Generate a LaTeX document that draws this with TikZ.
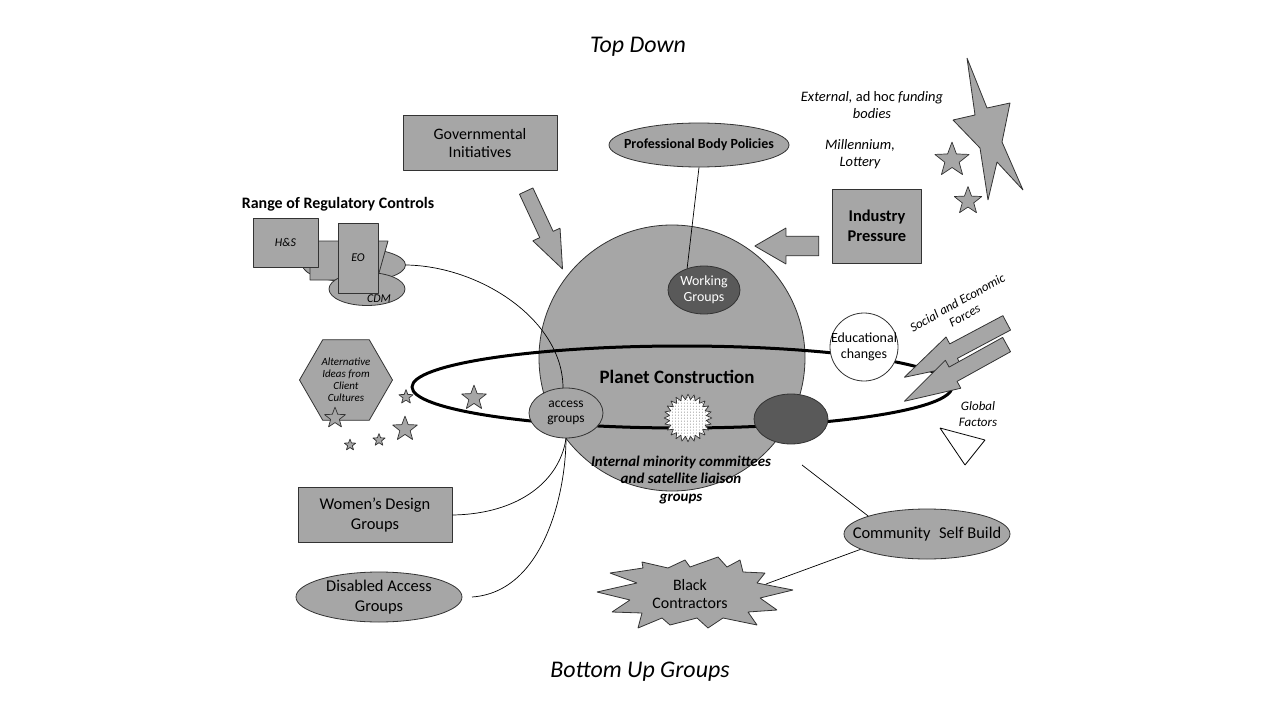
\documentclass[tikz,border=0pt]{standalone}
\usepackage{fontspec}
\setmainfont{Carlito}
\usepackage{tikz}
\usetikzlibrary{positioning,shapes.geometric,shapes.arrows,patterns}
\definecolor{shapegrey}{HTML}{A6A6A6}
\definecolor{darkgrey}{HTML}{595959}
\definecolor{edgegrey}{HTML}{333333}
\newcommand{\fsz}[1]{\fontsize{#1}{#1}\selectfont}

\begin{document}
\begin{tikzpicture}[x=1bp,y=-1bp,line join=bevel,
  box/.style={draw=edgegrey,fill=shapegrey,line width=0.8bp,align=center,inner sep=0pt},
  oval/.style={box,ellipse,inner xsep=-12bp},
  tinystar/.style={draw=edgegrey,fill=shapegrey,line width=0.7bp,star,star points=5,star point ratio=2.4,inner sep=0pt},
  blockarrow/.style={draw=edgegrey,fill=shapegrey,line width=0.8bp,single arrow,inner xsep=0pt,anchor=tip},
  label/.style={align=center,inner sep=0pt}]
\useasboundingbox (0,0) rectangle (1280,720);
%%
\node (topdown) at (638,47) [label,font=\fsz{24}\itshape] {Top Down};
\node (bottomup) at (640,672) [label,font=\fsz{24}\itshape] {Bottom Up Groups};
%% top
\node (governmental) at (480,143) [box,minimum width=154bp,minimum height=55bp,font=\fsz{16}] {Governmental\\[3bp]Initiatives};
\node (govarrow) at (563,270) [blockarrow,rotate=-65,minimum height=86bp,inner ysep=6.5bp,minimum width=30bp,single arrow tip angle=43] {};
\node (profbody) at (699,145) [oval,minimum width=180bp,minimum height=44bp,font=\fsz{14}\bfseries] {Professional Body Policies};
\node (funding) at (872,105) [label,font=\fsz{14.5}\itshape] {External, {\upshape ad hoc} funding\\[3bp]bodies};
\node (lottery) at (860,154) [label,font=\fsz{14.5}\itshape] {Millennium,\\[3bp]Lottery};
\draw [draw=edgegrey,fill=shapegrey,line width=0.8bp] (967,58) -- (987,108) -- (1010,103) -- (1002,142) -- (1023,190) -- (997,162) -- (988,200) -- (980,148) -- (953,120) -- (975,115) -- cycle;
\node (star1) at (952,160) [tinystar,minimum size=36bp] {};
\node (star2) at (968,201) [tinystar,minimum size=29bp] {};
\node (industry) at (877,226) [box,minimum width=89bp,minimum height=74bp,font=\fsz{16.5}\bfseries] {Industry\\[3bp]Pressure};
\node (indarrow) at (754,246) [blockarrow,rotate=180,minimum height=64bp,inner ysep=8bp,minimum width=36bp,single arrow tip angle=60] {};
%% regulatory controls
\node (regtitle) at (338,204) [label,font=\fsz{16}\bfseries] {Range of Regulatory Controls};
\node (regback) at (354,265) [oval,minimum width=103bp,minimum height=34bp] {};
\draw [draw=edgegrey,fill=shapegrey,line width=0.8bp] (310,241) -- (388,241) -- (377,280) -- (310,280) -- cycle;
\node (cdm) at (367,289) [oval,minimum width=76bp,minimum height=33bp] {};
\node (cdmlabel) at (379,299) [label,font=\fsz{12}\itshape] {CDM};
\node (hs) at (285.5,242.5) [box,minimum width=65bp,minimum height=49bp,font=\fsz{12}\itshape] {H\&S};
\node (eo) at (358,258) [box,minimum width=40bp,minimum height=70bp,font=\fsz{12}\itshape] {EO};
%% left
\node (altideas) at (346,380) [box,regular polygon,regular polygon sides=6,minimum size=93bp,font=\fsz{11}\itshape] {Alternative\\[1bp]Ideas from\\[1bp]Client\\[1bp]Cultures};
\node (s1) at (335,418) [tinystar,minimum size=22bp] {};
\node (s2) at (406,397) [tinystar,minimum size=15bp] {};
\node (s3) at (474,398) [tinystar,minimum size=26bp] {};
\node (s4) at (405,429) [tinystar,minimum size=26bp] {};
\node (s5) at (379,440) [tinystar,minimum size=13bp] {};
\node (s6) at (350,445) [tinystar,minimum size=12bp] {};
\node (womens) at (375,515) [box,minimum width=154bp,minimum height=55bp,font=\fsz{16.5}] {Women’s Design\\[3bp]Groups};
\node (disabled) at (379,597) [oval,inner xsep=-25bp,minimum width=166bp,minimum height=50bp,font=\fsz{16.5}] {Disabled Access\\[3bp]Groups};
%% planet
\node (planet) at (672,358) [circle,draw=edgegrey,fill=shapegrey,line width=0.8bp,minimum size=266bp] {};
\node (planetlabel) at (677,377) [label,font=\fsz{19}\bfseries] {Planet Construction};
\node (internal) at (681,480) [label,font=\fsz{15}\bfseries\itshape] {Internal minority committees\\[3bp]and satellite liaison\\[3bp]groups};
\node (working) at (704,290) [oval,fill=darkgrey,minimum width=72bp,minimum height=48bp,text=white,font=\fsz{14}] {Working\\[2bp]Groups};
\draw [line width=3bp] (682,387) ellipse [x radius=270bp, y radius=41bp];
%%
\draw [line width=0.7bp] (profbody.south) -- (working.128);
\draw [line width=0.7bp] (regback.east) .. controls (480,266) and (563,320) .. (563,388);
\node (access) at (566,413) [oval,minimum width=74bp,minimum height=50bp,font=\fsz{13.5}] {access\\[2bp]groups};
\draw [line width=0.7bp] (womens.east) .. controls (520,514) and (560,480) .. (access.south);
\draw [line width=0.7bp] (472,597) .. controls (545,592) and (566,490) .. (access.south);
\node (sparkle) at (688,418) [draw=edgegrey,line width=0.7bp,star,star points=24,star point ratio=1.3,minimum size=48bp,inner sep=0pt,fill=white,postaction={pattern=dots,pattern color=gray}] {};
\node (darkmoon) at (791,419) [oval,fill=darkgrey,minimum width=74bp,minimum height=50bp] {};
\node (educational) at (864,347) [circle,draw=edgegrey,fill=white,line width=0.8bp,minimum size=68bp,inner sep=-6bp,align=center,font=\fsz{14}] {Educational\\[2bp]changes};
%% right
\node (social) at (961,309) [label,rotate=29,font=\fsz{13}\itshape] {Social and Economic\\[2bp]Forces};
\node (socarrow1) at (903,378) [blockarrow,rotate=208,minimum height=116bp,inner ysep=7bp,minimum width=32bp,single arrow tip angle=32] {};
\node (socarrow2) at (903,402) [blockarrow,rotate=209,minimum height=117bp,inner ysep=7bp,minimum width=32bp,single arrow tip angle=32] {};
\node (global) at (978,414) [label,font=\fsz{13}\itshape] {Global\\[3bp]Factors};
\draw [fill=white,line width=0.8bp] (940,428) -- (985,440) -- (965,465) -- cycle;
\node (community) at (927,534) [oval,inner xsep=-30bp,minimum width=166bp,minimum height=50bp,font=\fsz{16.5}] {Community\hspace{5bp} Self Build};
\coordinate (csbend) at (802,465);
\draw [line width=0.7bp] (csbend) -- (community.163);
%% black contractors burst
\draw [draw=edgegrey,fill=shapegrey,line width=0.8bp] (597,592) -- (637,583) -- (610,573) -- (643,568) -- (642,562) -- (668,568) -- (685,560) -- (690,567) -- (718,557) -- (727,567) -- (740,560) -- (743,572) -- (765,573) -- (757,583) -- (793,590) -- (760,598) -- (777,610) -- (748,612) -- (757,625) -- (723,618) -- (708,628) -- (697,618) -- (670,625) -- (662,618) -- (638,628) -- (642,613) -- (612,612) -- (630,600) -- cycle;
\node (black) at (690,594) [label,font=\fsz{16}] {Black\\[3bp]Contractors};
\coordinate (blacktip) at (766,584);
\draw [line width=0.7bp] (community.193) -- (blacktip);
%
\end{tikzpicture}
\end{document}
